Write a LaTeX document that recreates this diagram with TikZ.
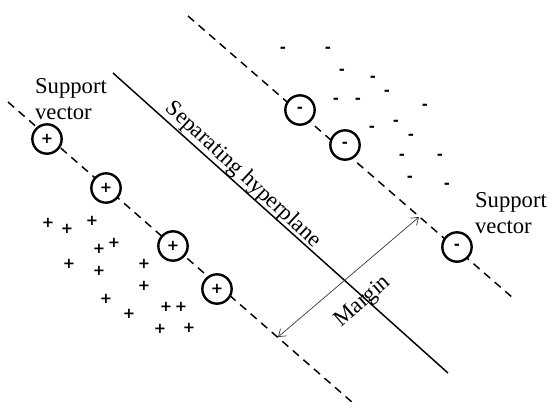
\documentclass[tikz,border=0pt]{standalone}
\usepackage{fontspec}
\setmainfont{Liberation Serif}
\newfontfamily\markfont{DejaVu Sans}
\usetikzlibrary{arrows.meta,positioning}

\tikzset{
  sv/.style={circle,draw,line width=1.8pt,fill=white,minimum size=22pt,inner sep=0pt,
    font=\fontsize{11}{11}\selectfont\markfont\bfseries},
  dot/.style={inner sep=0pt,font=\fontsize{11}{11}\selectfont\markfont\bfseries},
  bound/.style={dashed,line width=1.1pt,dash pattern=on 6pt off 4.5pt},
  label/.style={font=\fontsize{17}{20}\selectfont}
}

\begin{document}
\begin{tikzpicture}[x=0.75pt,y=-0.75pt]
  \useasboundingbox (0,0) rectangle (551,408);

  % hyperplane and the two margin boundaries
  \coordinate (h1) at (113,73);
  \coordinate (h2) at (448,373);
  \coordinate (p1) at (8,102);
  \coordinate (p2) at (353,403);
  \coordinate (n1) at (188,16);
  \coordinate (n2) at (513,298);
  \draw[line width=1.1pt] (h1) -- (h2);
  \draw[bound] (p1) -- (p2);
  \draw[bound] (n1) -- (n2);

  % support vectors
  \node[sv] (sp1) at (47,139) {+};
  \node[sv] (sp2) at (106,188) {+};
  \node[sv] (sp3) at (173,246) {+};
  \node[sv] (sp4) at (217,289) {+};
  \node[sv] (sn1) at (300,110) {-};
  \node[sv] (sn2) at (345,145) {-};
  \node[sv] (sn3) at (457,247) {-};

  % remaining samples
  \foreach \x/\y [count=\i] in {48/223,67/229,92/221,99/249,114/243,69/264,99/271,
      144/264,144/286,106/299,129/314,166/307,181/307,160/329,189/328}
    \node[dot] (a\i) at (\x,\y) {+};
  \foreach \x/\y [count=\i] in {283/50,328/50,342/72,373/79,387/93,336/101,358/101,
      425/107,372/129,396/123,411/137,402/157,440/157,410/179,447/186}
    \node[dot] (b\i) at (\x,\y) {-};

  % margin
  \coordinate (m1) at (278,337);
  \coordinate (m2) at (419,217);
  \draw[{Straight Barb[length=5pt,width=7pt]}-{Straight Barb[length=5pt,width=7pt]},
    line width=0.5pt,black!80] (m1) -- (m2);
  \node[label,rotate=41] (margin) at (363,302) {Margin};

  \node[label,rotate=-43] (hyp) at (243,175) {Separating hyperplane};
  \node[label,align=left] (svl) at (71,99) {Support\\vector};
  \node[label,align=left] (svr) at (511,213) {Support\\vector};
\end{tikzpicture}
\end{document}
